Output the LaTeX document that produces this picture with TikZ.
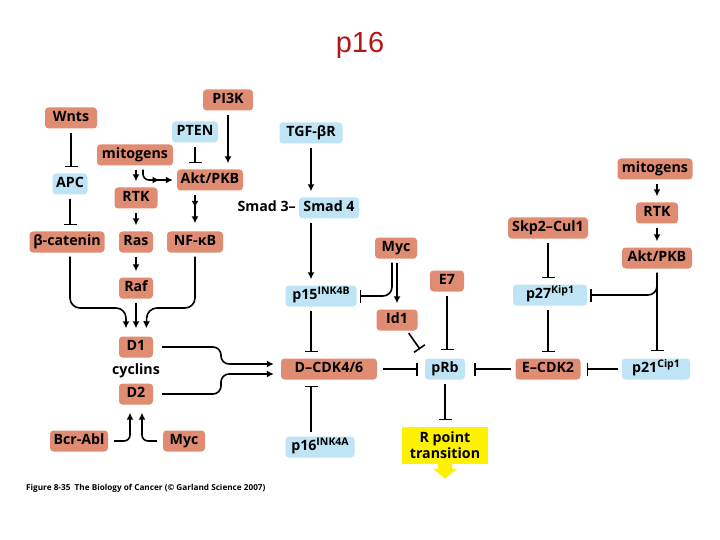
\documentclass[tikz,border=0pt]{standalone}
\usepackage{fontspec}
\setmainfont{Open Sans}
\newfontfamily\titlefont{Liberation Sans}
\usetikzlibrary{arrows.meta,decorations.markings,calc}
\definecolor{salm}{RGB}{224,140,115}
\definecolor{lblue}{RGB}{190,228,246}
\definecolor{ryel}{RGB}{255,242,0}
\definecolor{tred}{RGB}{178,24,24}
\newcommand\sups[1]{\raisebox{4.8pt}{\fontsize{10.5}{11}\selectfont #1}}
\begin{document}
\begin{tikzpicture}[x=1pt,y=-1pt,
  box/.style={rounded corners=3.5pt, minimum height=21pt, inner xsep=2pt, inner ysep=0pt,
    text height=10.5pt, text depth=3pt, font=\bfseries\fontsize{14.2}{16}\selectfont},
  sal/.style={box, fill=salm},
  blu/.style={box, fill=lblue},
  txt/.style={inner sep=0pt, text height=10.5pt, text depth=3pt, font=\bfseries\fontsize{14.2}{16}\selectfont},
  act/.style={line width=1.6pt, -{Latex[length=7pt,width=7pt]}, shorten <=4pt, shorten >=6pt},
  inh/.style={line width=1.6pt, -{Bar[width=13pt,line width=1.6pt]}, shorten <=4pt, shorten >=6pt},
  midarrow/.style={postaction={decorate}, decoration={markings, mark=at position #1 with {\arrow{Latex[length=7pt,width=7pt]}}}}
]
\useasboundingbox[fill=white] (0,0) rectangle (720,540);

\node[font=\titlefont\fontsize{29}{32}\selectfont, text=tred] (title) at (360,45) {p16};

% left column
\node[sal, minimum width=52] (wnts) at (71,118) {Wnts};
\node[sal, minimum width=50] (pi3k) at (228,100) {PI3K};
\node[blu, minimum width=46] (pten) at (195,132) {PTEN};
\node[blu, minimum width=63] (tgf) at (311,133) {TGF-βR};
\node[sal, minimum width=76] (mitoL) at (135,155) {mitogens};
\node[blu, minimum width=35] (apc) at (70,184) {APC};
\node[sal, minimum width=66] (aktL) at (210,180) {Akt/PKB};
\node[sal, minimum width=43] (rtkL) at (136,198) {RTK};
\node[blu, minimum width=60] (smad4) at (329,208) {Smad 4};
\node[txt, anchor=east] (smad3) at (296,208) {Smad 3–};
\node[sal, minimum width=75] (bcat) at (67,242) {β-catenin};
\node[sal, minimum width=34] (ras) at (136,242) {Ras};
\node[sal, minimum width=56] (nfkb) at (195,242) {NF-κB};
\node[sal, minimum width=42] (mycM) at (396,248) {Myc};
\node[sal, minimum width=80] (skp2) at (548,228) {Skp2–Cul1};
\node[sal, minimum width=75] (mitoR) at (655,169) {mitogens};
\node[sal, minimum width=42] (rtkR) at (657,213) {RTK};
\node[sal, minimum width=70] (aktR) at (657,258) {Akt/PKB};
\node[sal, minimum width=34] (e7) at (447,281) {E7};
\node[sal, minimum width=34] (raf) at (136,288) {Raf};
\node[blu, minimum width=71] (p15) at (321,296) {p15\sups{INK4B}};
\node[blu, minimum width=74] (p27) at (550,295) {p27\sups{Kip1}};
\node[sal, minimum width=41] (id1) at (397,320) {Id1};
\node[sal, minimum width=34] (d1) at (136,347) {D1};
\node[txt] (cyc) at (136,371) {cyclins};
\node[sal, minimum width=96] (dcdk) at (329,369) {D–CDK4/6};
\node[blu, minimum width=40] (prb) at (445,369) {pRb};
\node[sal, minimum width=65] (ecdk) at (548,369) {E–CDK2};
\node[blu, minimum width=68] (p21) at (656,369) {p21\sups{Cip1}};
\node[sal, minimum width=34] (d2) at (136,394) {D2};
\node[sal, minimum width=58] (bcr) at (79,441) {Bcr-Abl};
\node[sal, minimum width=42] (mycB) at (184,441) {Myc};
\node[blu, minimum width=69] (p16) at (320,447) {p16\sups{INK4A}};
\node[fill=ryel, minimum width=86, minimum height=37, inner sep=0pt, align=center,
  font=\bfseries\fontsize{14.2}{16}\selectfont] (rp) at (445,445) {R point\\transition};
\fill[ryel] ($(rp.south)+(-7,0)$) -- ++(0,5) -- ++(-5,0) -- ($(rp.south)+(0,15)$)
  -- ($(rp.south)+(12,5)$) -- ++(-5,0) -- ($(rp.south)+(7,0)$) -- cycle;

\node[anchor=west, inner sep=0pt, font=\bfseries\fontsize{8.2}{9}\selectfont] (cap) at (26,488)
  {Figure 8-35\ \ The Biology of Cancer (© Garland Science 2007)};

% connectors, left
\draw[inh] (wnts.south) -- (wnts.south |- apc.north);
\draw[inh] (apc.south) -- (apc.south |- bcat.north);
\draw[act] (pi3k.south) -- (pi3k.south |- aktL.north);
\draw[inh] (pten.south) -- (pten.south |- aktL.north);
\draw[act] (rtkL.north |- mitoL.south) -- (rtkL.north);
\draw[act, rounded corners=6pt, shorten >=4pt, midarrow=0.62] ([xshift=8pt]mitoL.south) |- (aktL.west);
\draw[act, shorten >=8pt, midarrow=0.42] (nfkb.north |- aktL.south) -- (nfkb.north);
\draw[act] (rtkL.south) -- (ras.north);
\draw[act] (ras.south) -- (raf.north);
\draw[act, shorten >=8pt] (raf.south) -- (d1.north);
\draw[act, rounded corners=10pt, shorten >=8pt] (bcat.south -| apc.south) -- (70,308) -- (126,308) -- ([xshift=-10pt]d1.north);
\draw[act, rounded corners=10pt, shorten >=8pt] (nfkb.south) -- (195,308) -- (147,308) -- ([xshift=10pt]d1.north);
\draw[act, rounded corners=8pt, shorten <=9pt, shorten >=7pt] (d1.east) -- (221,347) -- (221,364) -- ([yshift=5pt]dcdk.west);
\draw[act, rounded corners=8pt, shorten <=9pt, shorten >=7pt] (d2.east) -- (221,394) -- (221,374) -- ([yshift=-5pt]dcdk.west);
\draw[act, rounded corners=6pt, shorten <=6pt, shorten >=8pt] (bcr.east) -- (130,441) -- ([xshift=-6pt]d2.south);
\draw[act, rounded corners=6pt, shorten <=6pt, shorten >=8pt] (mycB.west) -- (142,441) -- ([xshift=6pt]d2.south);

% middle
\draw[act] (tgf.south) -- (tgf.south |- smad4.north);
\draw[act] (tgf.south |- smad4.south) -- (tgf.south |- p15.north);
\draw[inh] (tgf.south |- p15.south) -- (tgf.south |- dcdk.north);
\draw[inh] (tgf.south |- p16.north) -- (tgf.south |- dcdk.south);
\draw[inh, rounded corners=9pt, shorten >=3pt] ([xshift=-4pt]mycM.south) |- (p15.east);
\draw[act] (id1.north |- mycM.south) -- (id1.north);
\draw[inh, shorten <=3pt, shorten >=5pt] ([xshift=10pt]id1.south) -- ([xshift=-2pt,yshift=5pt]prb.north west);
\draw[inh, shorten >=8pt] (e7.south) -- (e7.south |- prb.north);
\draw[inh, shorten <=6pt, shorten >=7pt] (dcdk.east) -- (prb.west);
\draw[inh, shorten <=4pt, shorten >=9pt] (ecdk.west) -- (prb.east);
\draw[inh] (prb.south) -- (prb.south |- rp.north);

% right
\draw[act] (mitoR.south -| rtkR.north) -- (rtkR.north);
\draw[act] (rtkR.south) -- (aktR.north);
\draw[inh] (skp2.south) -- (skp2.south |- p27.north);
\draw[inh] (p27.south -| skp2.south) -- (skp2.south |- ecdk.north);
\draw[inh] (p21.west) -- (ecdk.east);
\draw[inh, shorten >=7pt] (aktR.south) -- (aktR.south |- p21.north);
\draw[inh, rounded corners=9pt, shorten >=3pt] (aktR.south) |- (p27.east);
\end{tikzpicture}
\end{document}
